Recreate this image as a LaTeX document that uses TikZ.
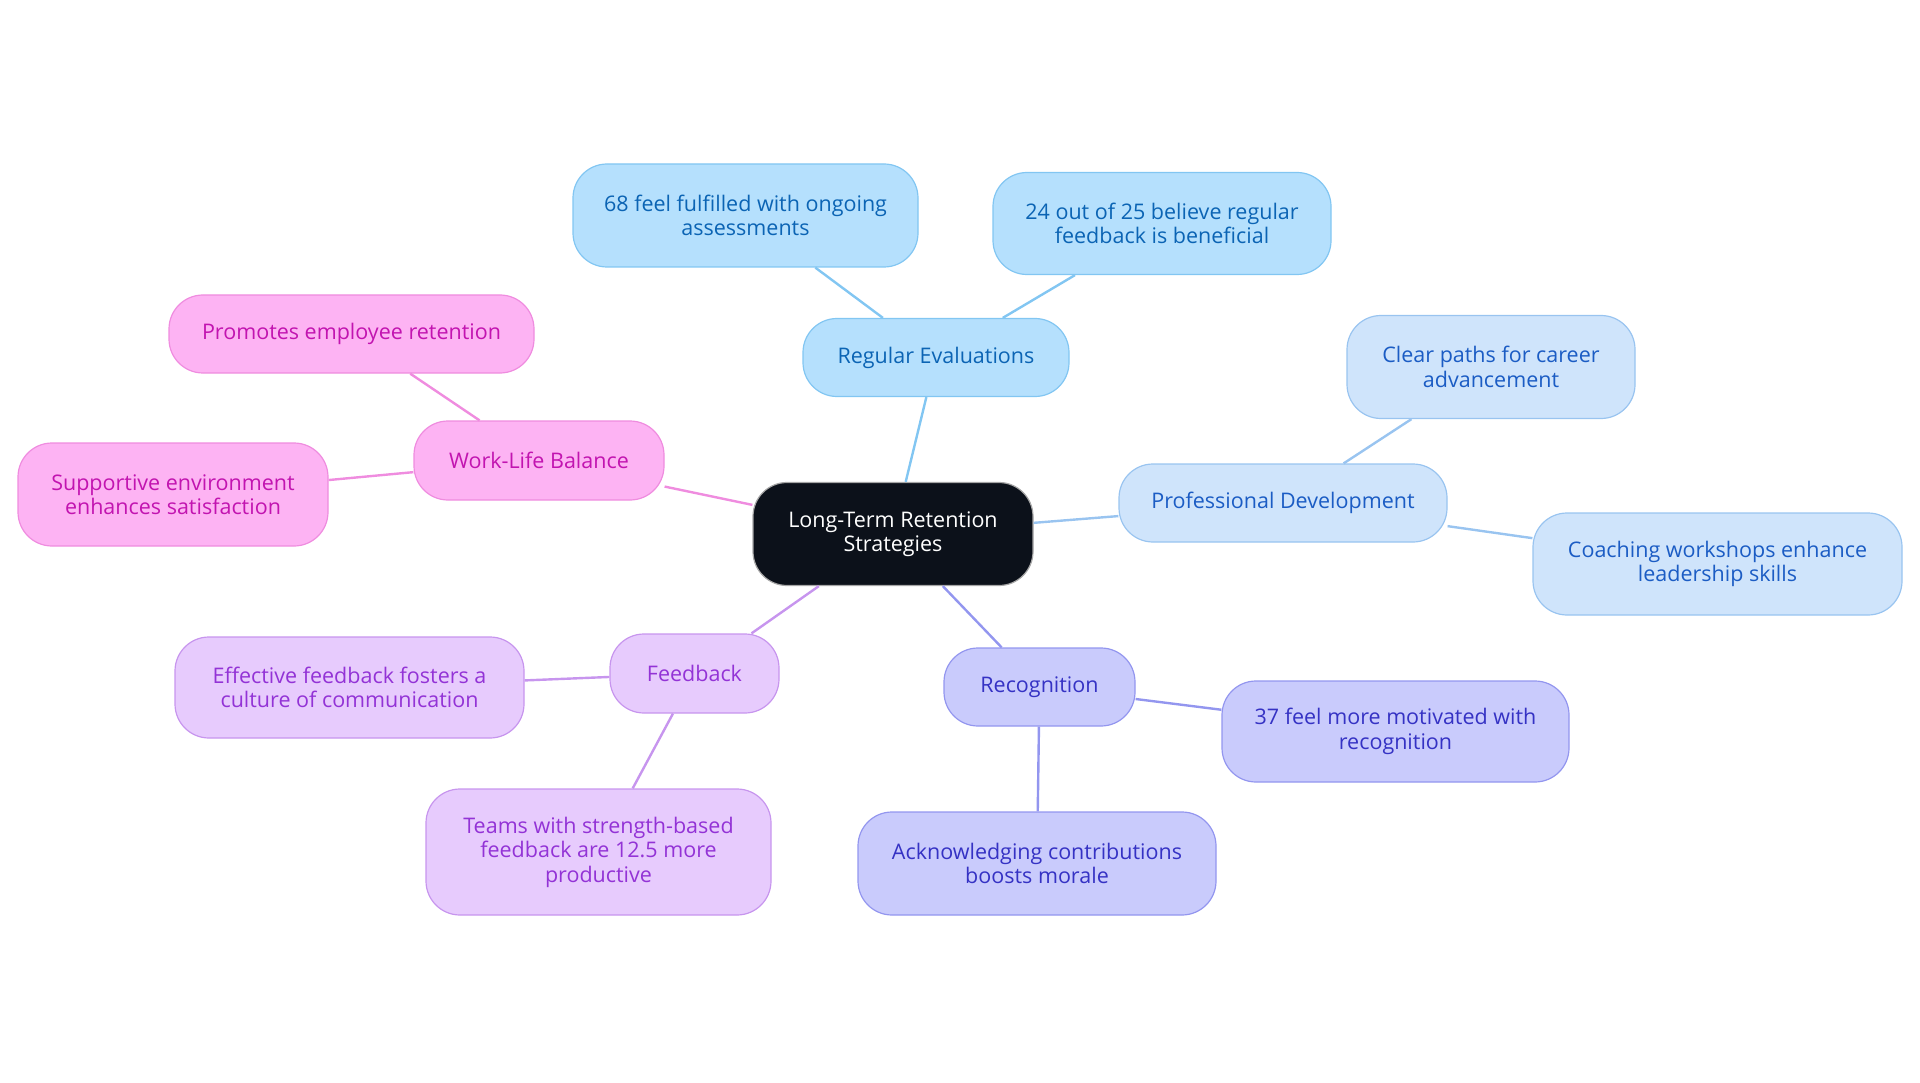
\documentclass[tikz,border=0pt]{standalone}
\usepackage{fontspec}
\setmainfont{Open Sans}
\definecolor{corefill}{HTML}{0C111A}
\definecolor{evalfill}{HTML}{B5E0FD}
\definecolor{evaldraw}{HTML}{82C6F2}
\definecolor{evaltext}{HTML}{0B64B4}
\definecolor{devfill}{HTML}{CFE4FB}
\definecolor{devdraw}{HTML}{99C4F0}
\definecolor{devtext}{HTML}{1B5CC4}
\definecolor{recfill}{HTML}{C9CBFC}
\definecolor{recdraw}{HTML}{9396EF}
\definecolor{rectext}{HTML}{3532C4}
\definecolor{fbfill}{HTML}{E7CBFD}
\definecolor{fbdraw}{HTML}{C795EE}
\definecolor{fbtext}{HTML}{9333D6}
\definecolor{wlbfill}{HTML}{FDB3F3}
\definecolor{wlbdraw}{HTML}{EF8CDF}
\definecolor{wlbtext}{HTML}{C214B0}
\begin{document}
\begin{tikzpicture}[x=1pt, y=-1pt,
    every node/.style={draw, rounded corners=34pt, line width=1.2pt, inner sep=0pt, align=center, font=\fontsize{21.5}{24.5}\selectfont},
    boxsize/.style 2 args={minimum width=#1pt, minimum height=#2pt},
    core/.style={fill=corefill, draw=gray!70, text=white},
    evalbox/.style={fill=evalfill, draw=evaldraw, text=evaltext},
    devbox/.style={fill=devfill, draw=devdraw, text=devtext},
    recbox/.style={fill=recfill, draw=recdraw, text=rectext},
    fbbox/.style={fill=fbfill, draw=fbdraw, text=fbtext},
    wlbbox/.style={fill=wlbfill, draw=wlbdraw, text=wlbtext},
    link/.style={line width=2.4pt}]
        \useasboundingbox (0,0) rectangle (1920,1083);
        \node[core, boxsize={280}{103}] (c) at (893,534) {Long-Term Retention\\Strategies};
        % branches
        \node[evalbox, boxsize={266}{78}] (re) at (936,357.5) {Regular Evaluations};
        \node[evalbox, boxsize={345}{103}] (re1) at (745.5,215.5) {68 feel fulfilled with ongoing\\assessments};
        \node[evalbox, boxsize={338}{102}] (re2) at (1162,223.5) {24 out of 25 believe regular\\feedback is beneficial};
        \node[devbox, boxsize={328}{78}] (pd) at (1283,503) {Professional Development};
        \node[devbox, boxsize={288}{103}] (pd1) at (1491,367) {Clear paths for career\\advancement};
        \node[devbox, boxsize={369}{102}] (pd2) at (1717.5,564) {Coaching workshops enhance\\leadership skills};
        \node[recbox, boxsize={191}{78}] (rc) at (1039.5,687) {Recognition};
        \node[recbox, boxsize={347}{101}] (rc1) at (1395.5,731.5) {37 feel more motivated with\\recognition};
        \node[recbox, boxsize={358}{103}] (rc2) at (1037,863.5) {Acknowledging contributions\\boosts morale};
        \node[fbbox, boxsize={169}{79}] (fb) at (694.5,673.5) {Feedback};
        \node[fbbox, boxsize={349}{101}] (fb1) at (349.5,687.5) {Effective feedback fosters a\\culture of communication};
        \node[fbbox, boxsize={345}{126}] (fb2) at (598.5,852) {Teams with strength-based\\feedback are 12.5 more\\productive};
        \node[wlbbox, boxsize={250}{79}] (wl) at (539,460.5) {Work-Life Balance};
        \node[wlbbox, boxsize={365}{78}] (wl1) at (351.5,334) {Promotes employee retention};
        \node[wlbbox, boxsize={310}{103}] (wl2) at (173,494.5) {Supportive environment\\enhances satisfaction};
        % connectors
        \draw[link, evaldraw] (c) -- (re);
        \draw[link, evaldraw] (re) -- (re1);
        \draw[link, evaldraw] (re) -- (re2);
        \draw[link, devdraw] (c) -- (pd);
        \draw[link, devdraw] (pd) -- (pd1);
        \draw[link, devdraw] (pd) -- (pd2);
        \draw[link, recdraw] (c) -- (rc);
        \draw[link, recdraw] (rc) -- (rc1);
        \draw[link, recdraw] (rc) -- (rc2);
        \draw[link, fbdraw] (c) -- (fb);
        \draw[link, fbdraw] (fb) -- (fb1);
        \draw[link, fbdraw] (fb) -- (fb2);
        \draw[link, wlbdraw] (c) -- (wl);
        \draw[link, wlbdraw] (wl) -- (wl1);
        \draw[link, wlbdraw] (wl) -- (wl2);
\end{tikzpicture}
\end{document}
